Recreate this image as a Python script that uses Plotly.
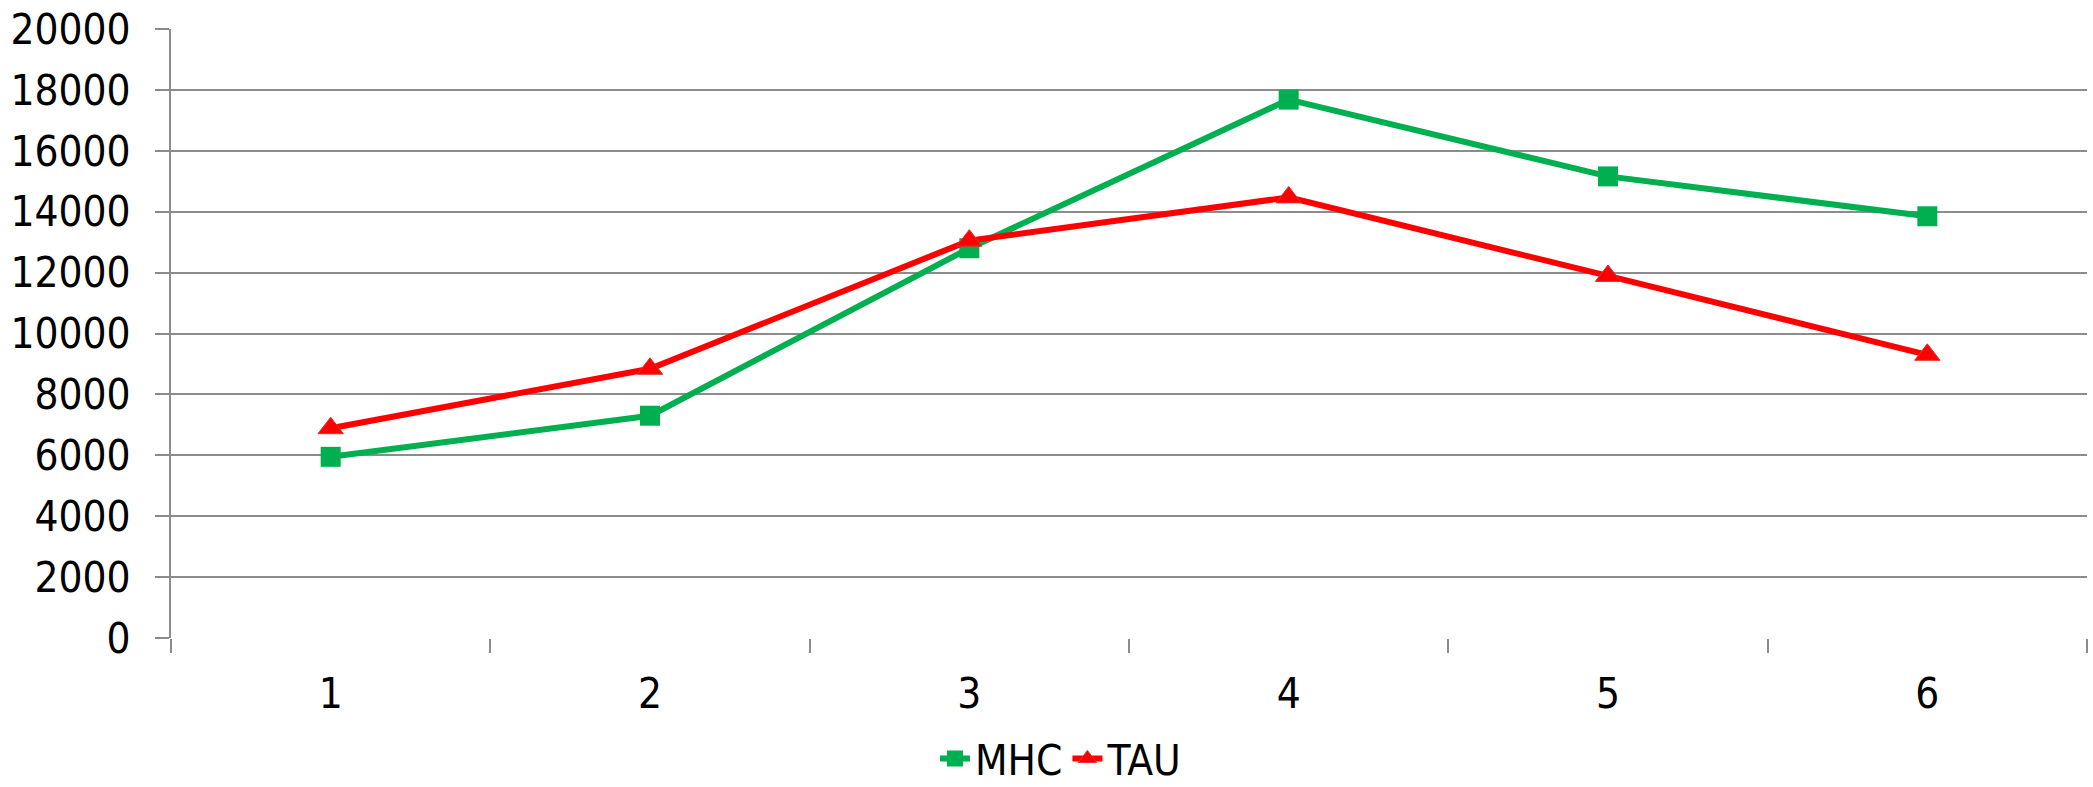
import plotly.graph_objects as go

# Sample index on the category axis
categories = ["1", "2", "3", "4", "5", "6"]

# Measured values per series
mhc_values = [5950, 7300, 12800, 17680, 15160, 13850]
tau_values = [6890, 8840, 13050, 14470, 11890, 9300]

y_ticks = list(range(0, 20001, 2000))
y_tick_labels = [str(v) for v in y_ticks]

FONT = "DejaVu Sans Condensed, Liberation Sans, sans-serif"
GRID = "#8c8c8c"

fig = go.Figure()
fig.add_trace(go.Scatter(
    x=categories, y=mhc_values, name="MHC", mode="lines+markers",
    line=dict(color="#00b050", width=6),
    marker=dict(symbol="square", size=20, color="#00b050"),
))
fig.add_trace(go.Scatter(
    x=categories, y=tau_values, name="TAU", mode="lines+markers",
    line=dict(color="#ff0000", width=6),
    marker=dict(symbol="triangle-up", size=22, color="#ff0000",
                line=dict(color="#e03030", width=1)),
))

fig.update_layout(
    width=2093, height=787,
    margin=dict(l=171, r=6, t=29, b=149, autoexpand=False),
    paper_bgcolor="white", plot_bgcolor="white",
    font=dict(family=FONT, size=42, color="black"),
    showlegend=True,
    legend=dict(orientation="h", x=0.4645, xanchor="center",
                yref="container", y=0.036, yanchor="middle",
                bgcolor="rgba(0,0,0,0)",
                font=dict(size=42), itemwidth=30, tracegroupgap=0),
    xaxis=dict(
        type="category", range=[-0.5, 5.5], tickson="boundaries",
        ticks="outside", ticklen=14,
        tickcolor=GRID, tickwidth=2, showgrid=False, showline=False,
        zeroline=False, ticklabelstandoff=27,
    ),
    yaxis=dict(
        range=[0, 20000], tickvals=y_ticks, ticktext=y_tick_labels,
        ticks="outside", ticklen=14,
        tickcolor=GRID, tickwidth=2, showgrid=True, gridcolor=GRID, gridwidth=2,
        showline=True, linecolor=GRID, linewidth=2, zeroline=False,
        ticklabelstandoff=16,
    ),
)

fig.write_html("out.html")
